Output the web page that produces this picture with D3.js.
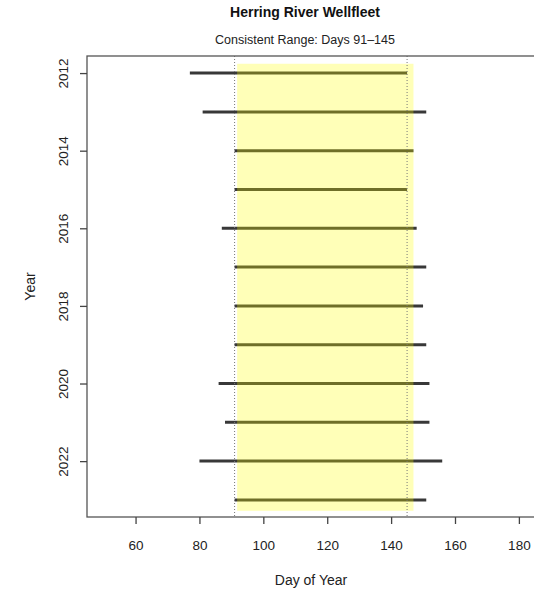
<!DOCTYPE html>
<html>
<head>
<meta charset="utf-8">
<script src="https://cdn.jsdelivr.net/npm/d3@7"></script>
<style>
  body { margin: 0; background: #fff; }
  text { font-family: "Liberation Sans", Arial, sans-serif; }
</style>
</head>
<body>
<div id="chart"></div>
<script>
// season start/end (day of year) for each year
var years = [2012, 2013, 2014, 2015, 2016, 2017, 2018, 2019, 2020, 2021, 2022, 2023]
var startDay = [77, 81, 91, 91, 87, 91, 91, 91, 86, 88, 80, 91]
var endDay = [145, 151, 147, 145, 148, 151, 150, 151, 152, 152, 156, 151]

var consistentRange = [91, 145]
var shadeDays = [91.8, 147]
var shadeYears = [2011.76, 2023.28]

var xTicks = [60, 80, 100, 120, 140, 160, 180]
var yTicks = [2012, 2014, 2016, 2018, 2020, 2022]

var W = 534, H = 593
// plot box (window.top is reserved, so prefixed names)
var plotL = 87, plotR = 535.5, plotT = 56, plotB = 517

var svg = d3.select("#chart").append("svg")
	.attr("width", W)
	.attr("height", H)

var x = d3.scaleLinear().domain([44.8, 185.2]).range([plotL, plotR])
var y = d3.scaleLinear().domain([2011.56, 2023.44]).range([plotT, plotB])

var rows = years.map(function(yr, i) {
	return {year: yr, start: startDay[i], end: endDay[i]}
})

// segments first, yellow band goes over them (semi transparent)
svg.append("g").selectAll("line")
	.data(rows)
	.enter().append("line")
	.attr("x1", function(d) { return x(d.start) })
	.attr("x2", function(d) { return x(d.end) })
	.attr("y1", function(d) { return y(d.year) })
	.attr("y2", function(d) { return y(d.year) })
	.style("stroke", "#383838")
	.style("stroke-width", 3)

svg.append("rect")
	.attr("x", x(shadeDays[0]))
	.attr("y", y(shadeYears[0]))
	.attr("width", x(shadeDays[1]) - x(shadeDays[0]))
	.attr("height", y(shadeYears[1]) - y(shadeYears[0]))
	.style("fill", "yellow")
	.style("fill-opacity", 0.28)

// dotted lines at the consistent range
svg.append("g").selectAll("line")
	.data(consistentRange)
	.enter().append("line")
	.attr("x1", function(d) { return x(d) })
	.attr("x2", function(d) { return x(d) })
	.attr("y1", plotT)
	.attr("y2", plotB)
	.style("stroke", "#777")
	.style("stroke-width", 1)
	.style("stroke-dasharray", "1,2")

// box
svg.append("rect")
	.attr("x", plotL)
	.attr("y", plotT)
	.attr("width", plotR - plotL)
	.attr("height", plotB - plotT)
	.style("fill", "none")
	.style("stroke", "#555")
	.style("stroke-width", 1.3)

// x axis
var xAxis = svg.append("g")
	.attr("transform", "translate(0," + plotB + ")")
	.call(d3.axisBottom(x).tickValues(xTicks).tickSize(7).tickPadding(16))
xAxis.select(".domain").remove()
xAxis.selectAll("line").style("stroke", "#444").style("stroke-width", 1.3)
xAxis.selectAll("text")
	.style("font-family", "Liberation Sans, Arial, sans-serif")
	.style("font-size", "13.5px")
	.style("fill", "#222")

// y axis, labels rotated like R
var yAxis = svg.append("g")
	.attr("transform", "translate(" + plotL + ",0)")
	.call(d3.axisLeft(y).tickValues(yTicks).tickFormat(d3.format("d")).tickSize(7))
yAxis.select(".domain").remove()
yAxis.selectAll("line").style("stroke", "#444").style("stroke-width", 1.3)
yAxis.selectAll("text")
	.attr("x", null)
	.attr("dy", null)
	.attr("transform", "translate(-24,0) rotate(-90)")
	.attr("text-anchor", "middle")
	.attr("dominant-baseline", "central")
	.style("font-family", "Liberation Sans, Arial, sans-serif")
	.style("font-size", "13.5px")
	.style("fill", "#222")

// titles
svg.append("text")
	.attr("x", 305)
	.attr("y", 17)
	.attr("text-anchor", "middle")
	.style("font-weight", "bold")
	.style("font-size", "14px")
	.style("fill", "#111")
	.text("Herring River Wellfleet")

svg.append("text")
	.attr("x", 305)
	.attr("y", 44)
	.attr("text-anchor", "middle")
	.style("font-size", "12.5px")
	.style("fill", "#222")
	.text("Consistent Range: Days " + consistentRange[0] + "\u2013" + consistentRange[1])

svg.append("text")
	.attr("x", 311)
	.attr("y", 585)
	.attr("text-anchor", "middle")
	.style("font-size", "14px")
	.style("fill", "#222")
	.text("Day of Year")

svg.append("text")
	.attr("transform", "translate(35," + ((plotT + plotB) / 2) + ") rotate(-90)")
	.attr("text-anchor", "middle")
	.style("font-size", "14px")
	.style("fill", "#222")
	.text("Year")
</script>
</body>
</html>
